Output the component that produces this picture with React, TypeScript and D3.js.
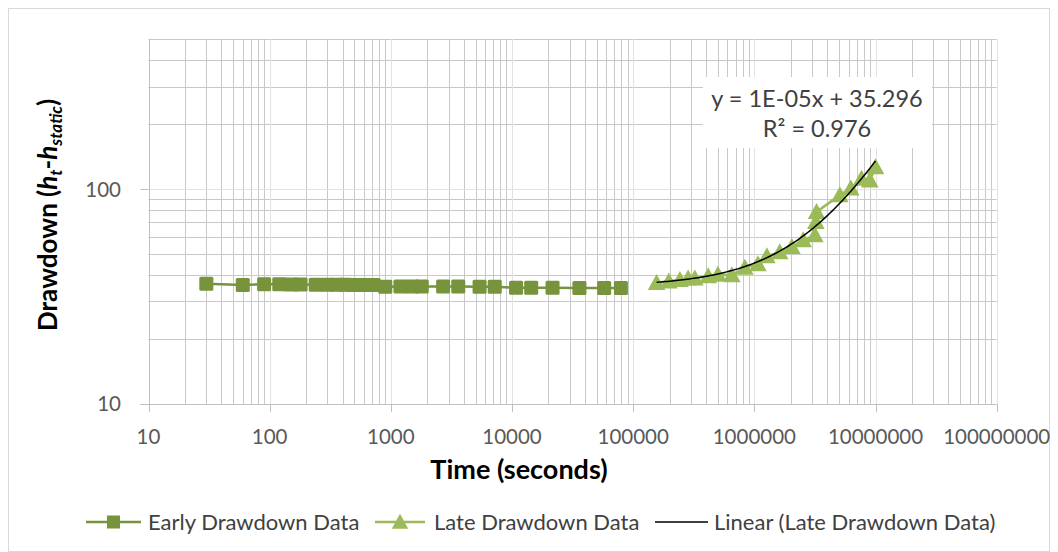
import React from "react";
import * as d3 from "d3";

const earlyTime = [30, 60, 90, 120, 150, 180, 240, 300, 360, 420, 480, 540, 600, 660, 720, 900, 1200, 1500, 1800, 2700, 3600, 5400, 7200, 10800, 14400, 21600, 36000, 57600, 79200];
const earlyDrawdown = [36.3, 35.8, 36.1, 36.1, 36.0, 36.0, 35.9, 35.9, 35.9, 35.9, 35.8, 35.8, 35.8, 35.8, 35.8, 35.1, 35.2, 35.2, 35.2, 35.2, 35.2, 35.1, 35.1, 34.8, 34.8, 34.8, 34.7, 34.7, 34.7];

const lateTime = [156000, 197000, 243000, 284000, 323000, 416000, 500000, 652000, 835000, 1070000, 1270000, 1620000, 2040000, 2530000, 3160000, 3220000, 3260000, 5070000, 6250000, 7660000, 8970000, 10000000];
const lateDrawdown = [36.7, 37.3, 37.9, 38.5, 38.5, 39.4, 40.0, 39.8, 43.2, 44.8, 48.8, 50.9, 53.9, 57.9, 61.1, 70.5, 78.4, 93.8, 101, 112, 110, 126.6];

const trendSlope = 1e-5;
const trendIntercept = 35.296;
const equationLines = ["y = 1E-05x + 35.296", "R² = 0.976"];

const xTickValues = [10, 100, 1000, 10000, 100000, 1000000, 10000000, 100000000];
const yTickValues = [10, 100];
const xDomain = [10, 1e8];
const yDomain = [10, 500];

const legendLabels = ["Early Drawdown Data", "Late Drawdown Data", "Linear (Late Drawdown Data)"];

const EARLY = "#77933C";
const LATE = "#9BBB59";
const FONT = "Lato, 'Open Sans', sans-serif";

export default function App() {
  const x = d3.scaleLog().domain(xDomain).range([148.5, 996.7]);
  const y = d3.scaleLog().domain(yDomain).range([404, 39]);
  const px = (v: number) => Math.round(v) + 0.5;

  const minorX: number[] = [];
  for (let d = 10; d < 1e8; d *= 10) for (let k = 2; k <= 9; k++) minorX.push(d * k);
  const majorX = xTickValues.slice(1);
  const minorY: number[] = [];
  for (let d = 10; d < 500; d *= 10) for (let k = 2; k <= 9; k++) if (d * k <= 500) minorY.push(d * k);
  const majorY = [100];

  const [x0, x1] = x.range();
  const [yb, yt] = y.range();

  const earlyPts = earlyTime.map((t, i) => [x(t), y(earlyDrawdown[i])] as [number, number]);
  const latePts = lateTime.map((t, i) => [x(t), y(lateDrawdown[i])] as [number, number]);
  const line = d3.line();

  const tMin = d3.min(lateTime)!;
  const tMax = d3.max(lateTime)!;
  const trendPts: [number, number][] = d3.range(0, 101).map((i) => {
    const t = Math.pow(10, Math.log10(tMin) + (Math.log10(tMax) - Math.log10(tMin)) * (i / 100));
    return [x(t), y(trendSlope * t + trendIntercept)];
  });

  const tri = (cx: number, cy: number, s: number) =>
    `M${cx},${cy - s * 0.55}L${cx + s * 0.55},${cy + s * 0.45}L${cx - s * 0.55},${cy + s * 0.45}Z`;

  const legendY = 522;

  return (
    <svg width={1058} height={552} style={{ position: "absolute", left: 0, top: 0, background: "#fff" }} fontFamily={FONT}>
      <rect x={8.5} y={8.5} width={1041} height={543} fill="#fff" stroke="#d9d9d9" />
      {/* gridlines */}
      {minorX.map((v) => (
        <line key={"mx" + v} x1={px(x(v))} x2={px(x(v))} y1={yt} y2={yb} stroke="#c8c8c8" strokeWidth={1} />
      ))}
      {minorY.map((v) => (
        <line key={"my" + v} x1={x0} x2={x1} y1={px(y(v))} y2={px(y(v))} stroke="#c8c8c8" strokeWidth={1} />
      ))}
      {majorX.map((v) => (
        <line key={"Mx" + v} x1={px(x(v))} x2={px(x(v))} y1={yt} y2={yb} stroke="#e2e2e2" strokeWidth={1} />
      ))}
      {majorY.map((v) => (
        <line key={"My" + v} x1={x0} x2={x1} y1={px(y(v))} y2={px(y(v))} stroke="#e2e2e2" strokeWidth={1} />
      ))}
      {/* axes */}
      <line x1={px(x0)} x2={px(x0)} y1={yt} y2={yb} stroke="#bfbfbf" />
      <line x1={x0 - 8} x2={x1} y1={px(yb)} y2={px(yb)} stroke="#bfbfbf" />
      {xTickValues.map((v) => (
        <line key={"xt" + v} x1={px(x(v))} x2={px(x(v))} y1={yb} y2={yb + 8} stroke="#bfbfbf" />
      ))}
      {yTickValues.map((v) => (
        <line key={"yt" + v} x1={x0 - 8} x2={x0} y1={px(y(v))} y2={px(y(v))} stroke="#bfbfbf" />
      ))}
      {xTickValues.map((v) => (
        <text key={"xl" + v} x={x(v)} y={444} textAnchor="middle" fontSize={20.5} fill="#595959">
          {String(v)}
        </text>
      ))}
      {yTickValues.map((v) => (
        <text key={"yl" + v} x={121} y={y(v) + 7.4} textAnchor="end" fontSize={20.5} fill="#595959">
          {String(v)}
        </text>
      ))}
      {/* axis titles */}
      <text x={519} y={479} textAnchor="middle" fontSize={27} fontWeight="bold" fill="#000">
        Time (seconds)
      </text>
      <text transform="translate(57,331) rotate(-90)" fontSize={26} fontWeight="bold" fill="#000">
        <tspan>Drawdown (</tspan>
        <tspan fontStyle="italic">h</tspan>
        <tspan fontStyle="italic" fontSize={17} dy={5}>t</tspan>
        <tspan dy={-5}>-</tspan>
        <tspan fontStyle="italic">h</tspan>
        <tspan fontStyle="italic" fontSize={17} dy={5}>static</tspan>
        <tspan dy={-5}>)</tspan>
      </text>
      {/* series */}
      <path d={line(earlyPts)!} fill="none" stroke={EARLY} strokeWidth={2.5} />
      {earlyPts.map(([cx, cy], i) => (
        <rect key={"e" + i} x={cx - 7} y={cy - 7} width={14} height={14} rx={1.5} fill={EARLY} />
      ))}
      <path d={line(latePts)!} fill="none" stroke={LATE} strokeWidth={2.5} />
      {latePts.map(([cx, cy], i) => (
        <path key={"l" + i} d={tri(cx, cy, 16)} fill={LATE} />
      ))}
      <path d={line(trendPts)!} fill="none" stroke="#000" strokeWidth={1.5} />
      {/* equation label */}
      <rect x={703} y={77} width={229} height={71} fill="#fff" />
      <text x={817} y={107} textAnchor="middle" fontSize={23.5} fill="#404040">{equationLines[0]}</text>
      <text x={817} y={137} textAnchor="middle" fontSize={23.5} fill="#404040">{equationLines[1]}</text>
      {/* legend */}
      <line x1={86} x2={141} y1={legendY} y2={legendY} stroke={EARLY} strokeWidth={2.5} />
      <rect x={107} y={legendY - 6.5} width={13} height={13} fill={EARLY} />
      <text x={148} y={legendY + 7.5} fontSize={22} fill="#404040">{legendLabels[0]}</text>
      <line x1={375} x2={425} y1={legendY} y2={legendY} stroke={LATE} strokeWidth={2.5} />
      <path d={tri(400, legendY, 15)} fill={LATE} />
      <text x={434} y={legendY + 7.5} fontSize={22} fill="#404040">{legendLabels[1]}</text>
      <line x1={655} x2={708} y1={legendY} y2={legendY} stroke="#000" strokeWidth={1.5} />
      <text x={714} y={legendY + 7.5} fontSize={22} fill="#404040">{legendLabels[2]}</text>
    </svg>
  );
}
